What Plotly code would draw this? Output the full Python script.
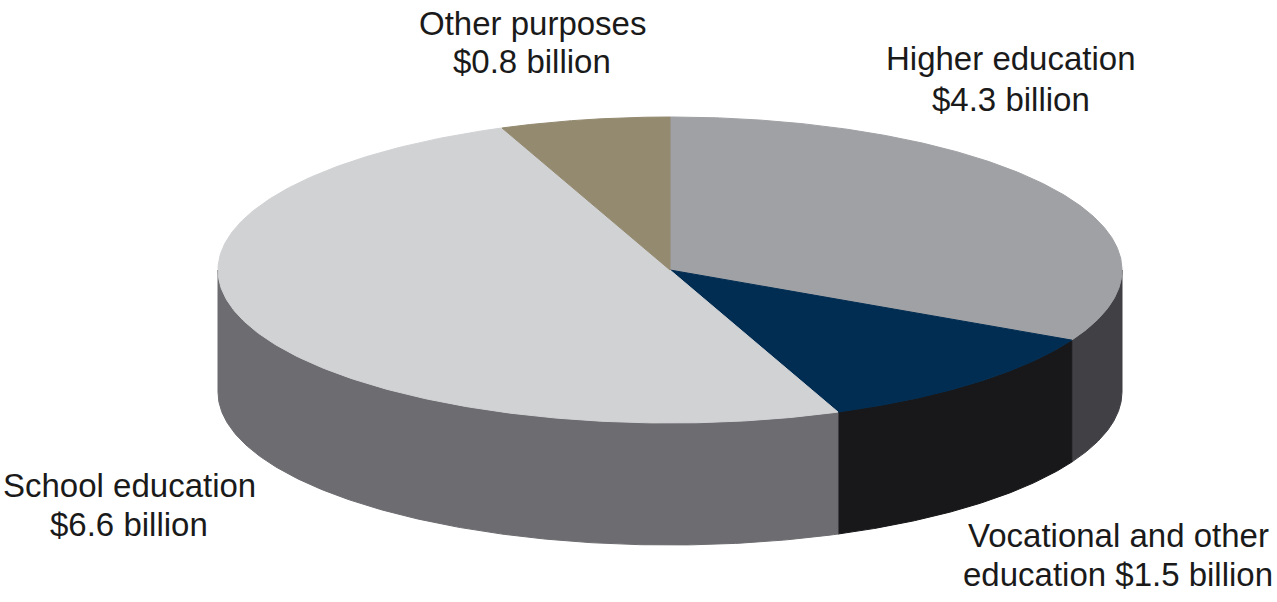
import numpy as np
import plotly.graph_objects as go

# ---- data ----
categories = ["Higher education", "Vocational and other education", "School education", "Other purposes"]
values = [4.3, 1.5, 6.6, 0.8]  # $ billion
label_first = ["Higher education", "Vocational and other", "School education", "Other purposes"]
label_second = ["$4.3 billion", "education $1.5 billion", "$6.6 billion", "$0.8 billion"]

# ---- styles ----
top_colors = ["#a0a1a5", "#022d52", "#d1d2d4", "#948a70"]
side_colors = ["#414045", "#18181a", "#6d6c71", "#6f6752"]

W, H = 1277, 602
CX, CY, RX, RY, DEPTH = 670, 270, 452, 153, 122
FONT = dict(family="Liberation Sans, Arial, sans-serif", size=33, color="#1a1a1a")
# label anchor (x centre, baseline of first line, line gap) for each category
label_pos = [(1011, 71, 41), (1118, 548, 39), (129, 498, 39), (532, 36, 38)]


def pt(theta_deg, dy=0.0):
    t = np.radians(theta_deg)
    return CX + RX * np.sin(t), CY - RY * np.cos(t) + dy


fig = go.Figure()

total = sum(values)
bounds = np.concatenate([[0], np.cumsum(values) / total * 360.0])

# sides (front half only: 90..270 deg clockwise from top)
for i in range(len(values)):
    a, b = max(bounds[i], 90.0), min(bounds[i + 1], 270.0)
    if b <= a:
        continue
    th = np.linspace(a, b, 200)
    xt, yt = pt(th)
    xb, yb = pt(th[::-1], DEPTH)
    xs = np.concatenate([xt, xb, xt[:1]])
    ys = np.concatenate([yt, yb, yt[:1]])
    fig.add_trace(go.Scatter(x=xs, y=ys, mode="lines", fill="toself",
                             fillcolor=side_colors[i],
                             line=dict(color=side_colors[i], width=1),
                             hoverinfo="skip", showlegend=False))

# top faces
for i in range(len(values)):
    th = np.linspace(bounds[i], bounds[i + 1], 300)
    xt, yt = pt(th)
    xs = np.concatenate([[CX], xt, [CX]])
    ys = np.concatenate([[CY], yt, [CY]])
    fig.add_trace(go.Scatter(x=xs, y=ys, mode="lines", fill="toself",
                             fillcolor=top_colors[i],
                             line=dict(color=top_colors[i], width=1),
                             hoverinfo="skip", showlegend=False))

# labels
for i in range(len(values)):
    x, base, gap = label_pos[i]
    for j, txt in enumerate([label_first[i], label_second[i]]):
        fig.add_annotation(x=x, y=base + j * gap - 13, text=txt, showarrow=False,
                           xanchor="center", yanchor="middle", font=FONT)

fig.update_layout(
    width=W, height=H,
    margin=dict(l=0, r=0, t=0, b=0),
    paper_bgcolor="white", plot_bgcolor="white",
    xaxis=dict(range=[0, W], visible=False, fixedrange=True),
    yaxis=dict(range=[H, 0], visible=False, fixedrange=True),
    showlegend=False,
    hovermode=False,
)

fig.write_html("out.html", config={"displayModeBar": False},
               post_script="document.body.style.margin='0px';document.body.style.overflow='hidden';")
